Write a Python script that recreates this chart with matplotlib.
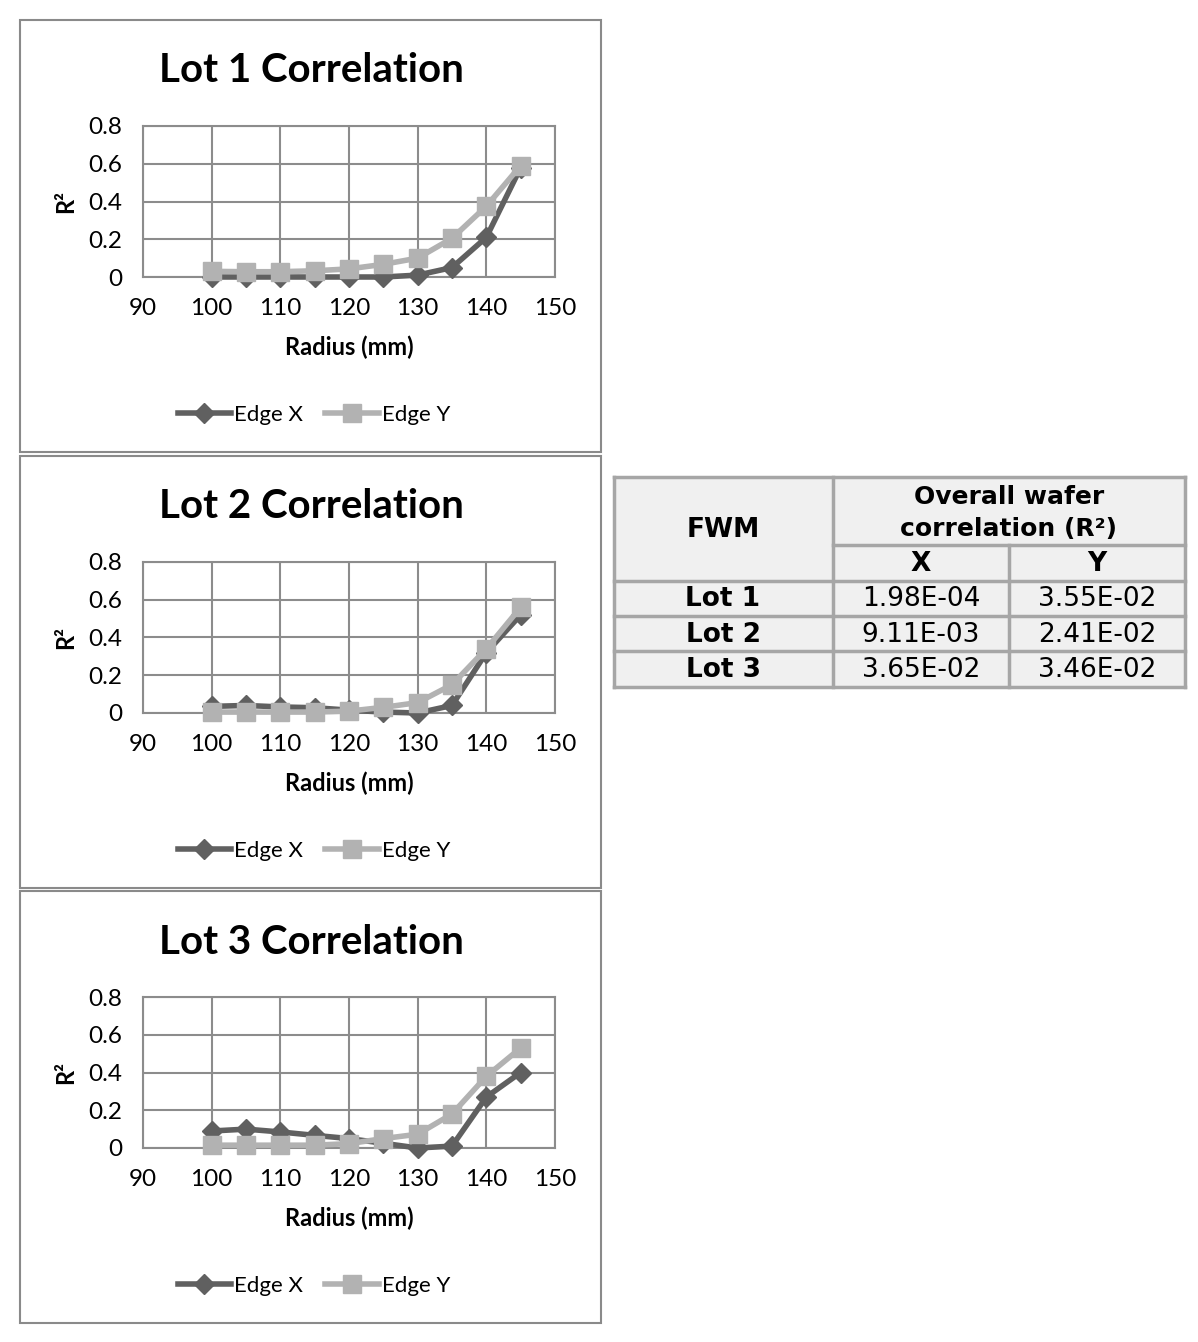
import numpy as np
import matplotlib
matplotlib.use("Agg")
import matplotlib.pyplot as plt
from matplotlib.patches import Rectangle

W, H = 1198, 1342

radius = [100, 105, 110, 115, 120, 125, 130, 135, 140, 145]

lot1_x = [0.0, 0.0, 0.0, 0.0, 0.0, 0.0, 0.01, 0.05, 0.21, 0.58]
lot1_y = [0.03, 0.028, 0.028, 0.033, 0.043, 0.067, 0.10, 0.205, 0.375, 0.59]
lot2_x = [0.035, 0.04, 0.032, 0.028, 0.015, 0.005, 0.0, 0.04, 0.32, 0.52]
lot2_y = [0.005, 0.005, 0.005, 0.005, 0.01, 0.03, 0.055, 0.15, 0.34, 0.56]
lot3_x = [0.09, 0.10, 0.085, 0.067, 0.05, 0.025, 0.0, 0.01, 0.27, 0.40]
lot3_y = [0.015, 0.015, 0.015, 0.015, 0.023, 0.05, 0.073, 0.18, 0.38, 0.53]

titles = ["Lot 1 Correlation", "Lot 2 Correlation", "Lot 3 Correlation"]
series = [(lot1_x, lot1_y), (lot2_x, lot2_y), (lot3_x, lot3_y)]

xticks = [90, 100, 110, 120, 130, 140, 150]
yticks = [0, 0.2, 0.4, 0.6, 0.8]
ytick_labels = ["0", "0.2", "0.4", "0.6", "0.8"]

# table contents
tbl_rows = ["Lot 1", "Lot 2", "Lot 3"]
tbl_x = ["1.98E-04", "9.11E-03", "3.65E-02"]
tbl_y = ["3.55E-02", "2.41E-02", "3.46E-02"]

dark = "#606060"
light = "#b2b2b2"
gridc = "#8c8c8c"
font = "Lato"

fig = plt.figure(figsize=(W / 100, H / 100), dpi=100)


def fx(x):
    return x / W


def fy(y):
    return 1 - y / H


def rect_px(x0, y0, x1, y1, **kw):
    r = Rectangle((fx(x0), fy(y1)), (x1 - x0) / W, (y1 - y0) / H,
                  transform=fig.transFigure, **kw)
    fig.patches.append(r)


panel_tops = [20, 456, 891]
panel_h = 432

for i in range(3):
    top = panel_tops[i]
    rect_px(20, top, 601, top + panel_h, fill=False, edgecolor="#8a8a8a", lw=1.5)

    ax_top = top + 106
    ax_bot = top + 257
    ax = fig.add_axes([fx(143), fy(ax_bot), (555 - 143) / W, (ax_bot - ax_top) / H])
    xs, ys = series[i]
    ax.plot(radius, xs, color=dark, lw=4, marker="D", ms=10, label="Edge X", zorder=3)
    ax.plot(radius, ys, color=light, lw=4, marker="s", ms=13, label="Edge Y", zorder=4)
    ax.set_xlim(90, 150)
    ax.set_ylim(0, 0.8)
    ax.set_xticks(xticks)
    ax.set_yticks(yticks)
    ax.set_yticklabels(ytick_labels)
    ax.grid(True, color=gridc, lw=1.5)
    ax.set_axisbelow(True)
    for s in ax.spines.values():
        s.set_color(gridc)
        s.set_linewidth(1.5)
    ax.tick_params(length=0, labelsize=17.5)
    ax.tick_params(axis="x", pad=15)
    ax.tick_params(axis="y", pad=15)
    for lab in ax.get_xticklabels() + ax.get_yticklabels():
        lab.set_fontfamily(font)
    ax.set_xlabel("Radius (mm)", fontsize=17, fontweight="bold", family=font, labelpad=12)
    ax.set_ylabel("R²", fontsize=17, fontweight="bold", family=font, labelpad=8)
    for ln in ax.lines:
        ln.set_clip_on(False)

    fig.text(fx(311), fy(top + 51), titles[i], ha="center", va="center",
             fontsize=29, fontweight="bold", family=font)
    ax.legend(loc="center", bbox_to_anchor=(fx(314), fy(top + 395)),
              bbox_transform=fig.transFigure, ncol=2, frameon=False,
              prop={"family": font, "size": 16}, handlelength=2.4,
              columnspacing=1.0, handletextpad=0.15)

# table
cols = [614, 833, 1009, 1185]
rows_y = [477, 545, 581, 616, 651, 687]
bg = "#f0f0f0"
lc = "#a6a6a6"
rect_px(cols[0], rows_y[0], cols[3], rows_y[5], facecolor=bg, edgecolor="none")
lw = 2.5
for k, y in enumerate(rows_y):
    x0 = cols[1] if k == 1 else cols[0]
    fig.add_artist(plt.Line2D([fx(x0), fx(cols[3])], [fy(y), fy(y)], color=lc, lw=lw,
                              transform=fig.transFigure))
for k, x in enumerate(cols):
    y0 = rows_y[1] if k == 2 else rows_y[0]
    fig.add_artist(plt.Line2D([fx(x), fx(x)], [fy(y0), fy(rows_y[5])], color=lc, lw=lw,
                              transform=fig.transFigure))

tfont = "DejaVu Sans"
fig.text(fx(723), fy(530), "FWM", ha="center", va="center", fontsize=19,
         fontweight="bold", family=tfont)
fig.text(fx(1009), fy(497), "Overall wafer", ha="center", va="center", fontsize=18,
         fontweight="bold", family=tfont)
fig.text(fx(1009), fy(529), "correlation (R²)", ha="center", va="center", fontsize=18,
         fontweight="bold", family=tfont)
fig.text(fx(921), fy(564), "X", ha="center", va="center", fontsize=19,
         fontweight="bold", family=tfont)
fig.text(fx(1097), fy(564), "Y", ha="center", va="center", fontsize=19,
         fontweight="bold", family=tfont)
for r in range(3):
    yc = (rows_y[r + 2] + rows_y[r + 3]) / 2 + 1
    fig.text(fx(723), fy(yc), tbl_rows[r], ha="center", va="center", fontsize=19,
             fontweight="bold", family=tfont)
    fig.text(fx(921), fy(yc), tbl_x[r], ha="center", va="center", fontsize=19,
             family=tfont)
    fig.text(fx(1097), fy(yc), tbl_y[r], ha="center", va="center", fontsize=19,
             family=tfont)

fig.savefig("out.png", dpi=100, facecolor="white")
